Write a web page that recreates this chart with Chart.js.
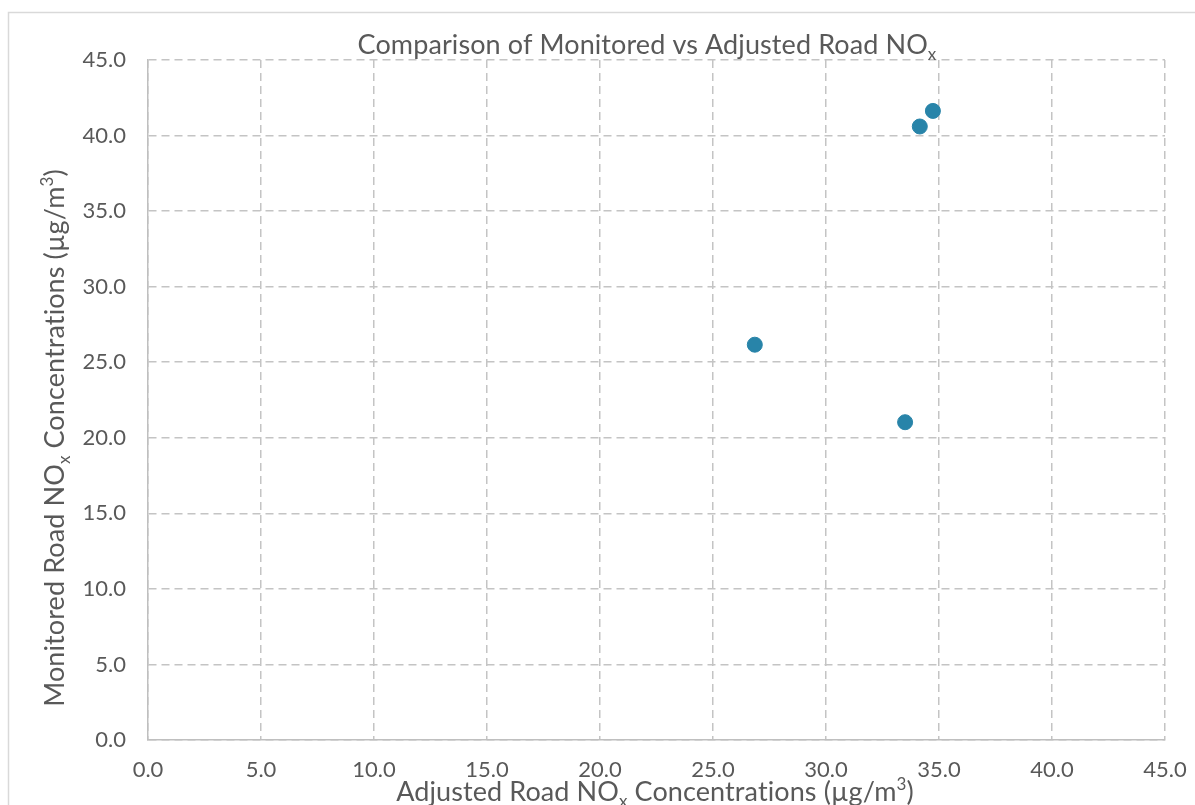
<!DOCTYPE html>
<html>
<head>
<meta charset="utf-8">
<title>Comparison of Monitored vs Adjusted Road NOx</title>
<script src="https://cdn.jsdelivr.net/npm/chart.js@4/dist/chart.umd.min.js"></script>
<style>
  html, body { margin: 0; padding: 0; background: #fff; overflow: hidden; }
  #wrap { width: 1195px; height: 805px; position: relative; }
</style>
</head>
<body>
<div id="wrap"><canvas id="scatterChart"></canvas></div>
<script>
// ==========================
// DATA
// ==========================
const adjustedNOx = [26.85, 33.5, 34.15, 34.73];
const monitoredNOx = [26.16, 21.03, 40.6, 41.63];

const axisMin = 0;
const axisMax = 45;
const axisStep = 5;

// text pieces: [text, "" | "sub" | "sup"]
const titleParts = [["Comparison of Monitored vs Adjusted Road NO", ""], ["x", "sub"]];
const xTitleParts = [["Adjusted Road NO", ""], ["x", "sub"], [" Concentrations (µg/m", ""], ["3", "sup"], [")", ""]];
const yTitleParts = [["Monitored Road NO", ""], ["x", "sub"], [" Concentrations (µg/m", ""], ["3", "sup"], [")", ""]];

// ==========================
// STYLE
// ==========================
const FONT = "Lato, 'Open Sans', sans-serif";
const TEXT = "#595959";
const GRID = "#c4c4c4";
const DOT = "#2884a9";

// ==========================
// RICH TEXT (sub / superscript)
// ==========================
function drawRich(ctx, parts, size, cx, cy, angle) {
    ctx.save();
    ctx.translate(cx, cy);
    ctx.rotate(angle);
    ctx.fillStyle = TEXT;
    ctx.textAlign = "left";
    ctx.textBaseline = "alphabetic";
    // tiny spacing keeps "ti" from turning into a ligature
    if ("letterSpacing" in ctx) ctx.letterSpacing = "0.1px";

    const fontFor = kind => (kind ? Math.round(size * 0.62) : size) + "px " + FONT;
    let total = 0;
    parts.forEach(([t, kind]) => {
        ctx.font = fontFor(kind);
        total += ctx.measureText(t).width;
    });

    let x = -total / 2;
    parts.forEach(([t, kind]) => {
        ctx.font = fontFor(kind);
        let dy = 0;
        if (kind === "sub") dy = size * 0.22;
        if (kind === "sup") dy = -size * 0.4;
        ctx.fillText(t, x, dy);
        x += ctx.measureText(t).width;
    });
    ctx.restore();
}

const decorPlugin = {
    id: "decor",
    beforeDraw(chart) {
        const ctx = chart.ctx;
        ctx.save();
        ctx.fillStyle = "#fff";
        ctx.fillRect(0, 0, chart.width, chart.height);
        ctx.strokeStyle = "#d9d9d9";
        ctx.lineWidth = 1.5;
        ctx.strokeRect(8.5, 12.5, 1400, 1000);
        ctx.restore();
    },
    afterDraw(chart) {
        const ctx = chart.ctx;
        drawRich(ctx, titleParts, 27, 647, 54, 0);
        drawRich(ctx, xTitleParts, 27, 655, 801, 0);
        drawRich(ctx, yTitleParts, 27, 64, 438, -Math.PI / 2);
    }
};

// ==========================
// CHART
// ==========================
const fmt = v => Number(v).toFixed(1);

function makeAxis(position, pad, fit) {
    return {
        type: "linear",
        position,
        min: axisMin,
        max: axisMax,
        grid: {
            color: GRID,
            lineWidth: 1.5,
            drawTicks: false
        },
        border: {
            display: true,
            color: "#bfbfbf",
            width: 1.5,
            dash: [8, 5]
        },
        ticks: {
            stepSize: axisStep,
            color: TEXT,
            font: { family: FONT, size: 22 },
            padding: pad,
            maxRotation: 0,
            callback: fmt
        },
        afterFit: fit
    };
}

new Chart(document.getElementById("scatterChart"), {
    type: "scatter",
    data: {
        datasets: [{
            label: "Road NOx",
            data: adjustedNOx.map((x, i) => ({ x, y: monitoredNOx[i] })),
            backgroundColor: DOT,
            borderColor: DOT,
            pointRadius: 7.5,
            pointHoverRadius: 7.5
        }]
    },
    options: {
        responsive: true,
        maintainAspectRatio: false,
        animation: false,
        layout: { padding: { top: 60, right: 30, left: 0, bottom: 0 } },
        plugins: {
            legend: { display: false },
            title: { display: false },
            tooltip: { enabled: false }
        },
        scales: {
            x: makeAxis("bottom", 17, s => {
                s.height = 65;
                s.paddingLeft = 0;
                s.paddingRight = 0;
            }),
            y: makeAxis("left", 22, s => {
                s.width = 148;
                s.paddingTop = 0;
                s.paddingBottom = 0;
            })
        }
    },
    plugins: [decorPlugin]
});
</script>
</body>
</html>
